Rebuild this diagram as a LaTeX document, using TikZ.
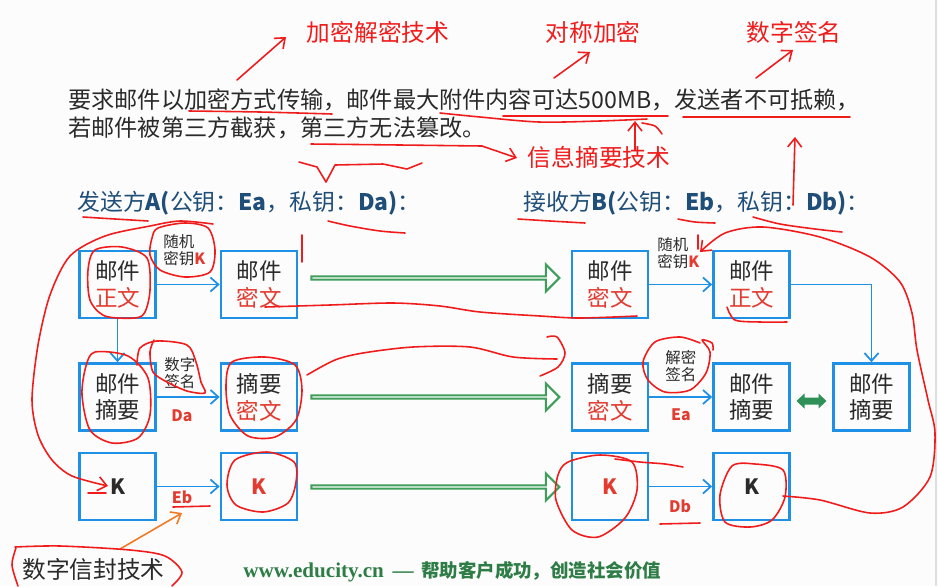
\documentclass[tikz,border=0pt]{standalone}
\usepackage{fontspec}
\setmainfont{Noto Sans CJK SC}
\newfontfamily\footserif{Liberation Serif}
\usetikzlibrary{arrows.meta, calc, shapes.arrows}
\definecolor{boxblue}{HTML}{1E90E6}
\definecolor{txtred}{HTML}{E23B30}
\definecolor{penred}{HTML}{F01C1C}
\definecolor{txtgray}{HTML}{2A2A2A}
\definecolor{navy}{HTML}{1F4E79}
\definecolor{arrowgreen}{HTML}{3E9E5A}
\definecolor{dgreen}{HTML}{2F9158}
\definecolor{footgreen}{HTML}{2E7D46}
\definecolor{penorange}{HTML}{F07A22}
\definecolor{bgwhite}{HTML}{FCFCFC}

\begin{document}
\begin{tikzpicture}[x=0.02cm, y=-0.02cm,
    mailbox/.style={draw=boxblue, line width=1.5pt, minimum width=1.52cm, minimum height=1.34cm,
                 inner sep=0pt, align=center, text=txtgray, font=\fontsize{12.8}{15.3}\selectfont},
    keytext/.style={font=\bfseries\fontsize{12}{14}\selectfont},
    conn/.style={-{Straight Barb[length=4.5pt, width=8pt]}, boxblue, line width=1pt},
    hollow/.style={single arrow, draw=arrowgreen, fill=white, line width=1.2pt,
                 minimum width=0.54cm, minimum height=4.96cm, single arrow head extend=0.15cm,
                 single arrow tip angle=90, inner sep=0pt},
    tag/.style={align=left, anchor=west, inner sep=0pt, text=txtgray, font=\fontsize{8.8}{9.8}\selectfont},
    keyname/.style={text=txtred, font=\bfseries\fontsize{9}{10}\selectfont, inner sep=0pt},
    note/.style={text=penred, font=\fontsize{13.5}{15}\selectfont, inner sep=0pt},
    pen/.style={draw=penred, line width=0.9pt, line cap=round, line join=round},
    pentip/.style={pen, -{Straight Barb[length=5pt, width=8pt]}},
]
    \fill[bgwhite] (0,0) rectangle (938,586);
    \useasboundingbox (0,0) rectangle (938,586);
    \draw[gray!25, line width=0.6pt] (936,0) -- (936,586);

    % Task text
    \node[anchor=west, inner sep=0pt, text=txtgray, font=\fontsize{13.2}{15.9}\selectfont] (req1) at (68,100)
        {要求邮件以加密方式传输，邮件最大附件内容可达500MB，发送者不可抵赖，};
    \node[anchor=west, inner sep=0pt, text=txtgray, font=\fontsize{13.2}{15.9}\selectfont] (req2) at (68,128)
        {若邮件被第三方截获，第三方无法篡改。};

    % Headers
    \node[anchor=west, inner sep=0pt, text=navy, font=\fontsize{13}{15}\selectfont] (hA) at (77,203)
        {发送方\textbf{A(}公钥：\textbf{Ea}，私钥：\textbf{Da)}：};
    \node[anchor=west, inner sep=0pt, text=navy, font=\fontsize{13}{15}\selectfont] (hB) at (523,203)
        {接收方\textbf{B(}公钥：\textbf{Eb}，私钥：\textbf{Db)}：};

    % Sender A
    \node[mailbox] (a1) at (117.5,284.5) {邮件\\\textcolor{txtred}{正文}};
    \node[mailbox] (a2) at (259,284.5) {邮件\\\textcolor{txtred}{密文}};
    \node[mailbox] (a3) at (117.5,397) {邮件\\摘要};
    \node[mailbox] (a4) at (259,397) {摘要\\\textcolor{txtred}{密文}};
    \node[mailbox, keytext] (a5) at (117.5,486.5) {K};
    \node[mailbox, keytext, text=txtred] (a6) at (259,486.5) {K};

    % Receiver B
    \node[mailbox] (b1) at (610,284.5) {邮件\\\textcolor{txtred}{密文}};
    \node[mailbox] (b2) at (751.5,284.5) {邮件\\\textcolor{txtred}{正文}};
    \node[mailbox] (b3) at (610,397) {摘要\\\textcolor{txtred}{密文}};
    \node[mailbox] (b4) at (751.5,397) {邮件\\摘要};
    \node[mailbox] (b5) at (871.5,397) {邮件\\摘要};
    \node[mailbox, keytext, text=txtred] (b6) at (610,486.5) {K};
    \node[mailbox, keytext] (b7) at (751.5,486.5) {K};

    % Transfer arrows
    \node[hollow] (g1) at ($(a2.east)!0.5!(b1.west)+(0,-6.5)$) {};
    \node[hollow] (g2) at ($(a4.east)!0.5!(b3.west)$) {};
    \node[hollow] (g3) at ($(a6.east)!0.5!(b6.west)+(0,0.5)$) {};

    \draw[conn] (a1) -- (a2);
    \draw[conn] (a1) -- (a3);
    \draw[conn] (a3) -- (a4);
    \draw[conn] (a5) -- (a6);
    \draw[conn] (b1) -- (b2);
    \draw[conn] (b3) -- (b4);
    \draw[conn] (b6) -- (b7);
    \draw[conn] (b2.east) -| (b5.north);

    % Compare arrow
    \coordinate (cmp) at ($(b4.east)!0.5!(b5.west)+(0,4)$);
    \fill[dgreen] ($(cmp)+(-15,0)$) -- ++(8,-7.5) -- ++(0,4) -- ++(14,0) -- ++(0,-4) -- ++(8,7.5)
        -- ++(-8,7.5) -- ++(0,-4) -- ++(-14,0) -- ++(0,4) -- cycle;

    % Small labels
    \node[tag] (rk1) at (163,250) {随机\\密钥\textcolor{txtred}{\bfseries K}};
    \node[tag] (rk2) at (657,253) {随机\\密钥\textcolor{txtred}{\bfseries K}};
    \node[tag] (sg1) at (164,373) {数字\\签名};
    \node[tag] (sg2) at (665,366) {解密\\签名};
    \node[keyname] (kda) at (182,416) {Da};
    \node[keyname] (kea) at (681,415) {Ea};
    \node[keyname] (keb) at (182,497) {Eb};
    \node[keyname] (kdb) at (680,506) {Db};

    % Red notes
    \node[note] (n1) at (378,32) {加密解密技术};
    \node[note] (n2) at (593,32) {对称加密};
    \node[note] (n3) at (794,32) {数字签名};
    \node[note] (n4) at (599,157) {信息摘要技术};
    \node[anchor=west, inner sep=0pt, text=txtgray, font=\fontsize{13.5}{15}\selectfont] (env) at (22,569) {数字信封技术};

    % Footer
    \node[anchor=west, inner sep=0pt, text=footgreen] (foot) at (243,572)
        {{\footserif\bfseries\fontsize{12}{14}\selectfont www.educity.cn \,—\,}
         {\bfseries\fontsize{10.5}{12}\selectfont 帮助客户成功，创造社会价值}};

    % Hand-drawn marks
    \draw[pentip] (237,80) -- (286,37);
    \draw[pentip] (554,78) -- (590,52);
    \draw[pentip] (756,78) -- (793,50);
    \draw[pentip] (793,205) -- (795,137);
    \draw[pen] plot[smooth] coordinates {(189,111) (260,112) (332,114)};
    \draw[pen] plot[smooth] coordinates {(440,113) (480,117) (539,122) (600,121) (647,119)};
    \draw[pen] plot[smooth] coordinates {(503,116) (585,116) (668,116)};
    \draw[pentip] (635,150) -- (635,121);
    \draw[pen] plot[smooth] coordinates {(642,123) (655,126) (662,134)};
    \draw[pen] plot[smooth] coordinates {(683,117) (765,117) (850,117)};
    \draw[pen] plot[smooth] coordinates {(311,144) (400,145) (482,146)};
    \draw[pentip] (482,146) -- (517,158);
    \draw[pen] (299,162) -- (317,167) -- (326,182) -- (335,165) -- (383,164) -- (407,169) -- (422,163);

    \draw[pen] plot[smooth] coordinates {(83,217) (115,219) (148,221)};
    \draw[pen] plot[smooth] coordinates {(328,221) (350,226) (380,231) (405,233)};
    \draw[pen] plot[smooth] coordinates {(518,219) (550,221) (585,223)};
    \draw[pen] plot[smooth] coordinates {(678,219) (695,222) (715,223)};
    \draw[pen] plot[smooth] coordinates {(753,217) (780,224) (815,229) (842,232)};

    \draw[pen] plot[smooth cycle] coordinates {(95,250) (122,247) (147,258) (150,290) (145,312) (135,318) (105,316) (90,300) (88,270)};
    \draw[pen] plot[smooth cycle] coordinates {(158,228) (185,223) (208,228) (215,250) (210,272) (185,277) (160,270) (150,255) (152,238)};
    \draw[pentip] plot[smooth] coordinates {(213,224) (180,221) (150,226) (105,236) (70,256) (50,295) (38,345) (32,400) (38,435) (52,460) (72,476) (108,486)};
    \draw[pen] (88,493) -- (106,493);
    \draw[pen] (302,235) -- (302,262);
    \draw[pen] plot[smooth] coordinates {(265,307) (330,305) (393,303) (440,306) (480,312) (540,316) (580,318) (637,316)};

    \draw[pen] plot[smooth cycle] coordinates {(95,352) (128,356) (148,378) (150,415) (138,438) (112,443) (90,430) (82,395) (86,366)};
    \draw[pen] plot[smooth] coordinates {(137,365) (140,348) (157,341) (187,345) (196,362) (201,382) (205,393) (187,391) (167,382) (153,372) (150,352) (154,340)};
    \draw[pen] plot[smooth cycle] coordinates {(232,362) (265,357) (295,365) (302,390) (296,420) (275,437) (248,436) (230,415) (226,385)};
    \draw[pen] plot[smooth] coordinates {(307,375) (335,360) (363,353) (413,347) (470,347) (513,357) (557,359)};
    \draw[pen] plot[smooth] coordinates {(547,337) (557,337) (565,353) (558,367) (540,376)};

    \draw[pen] plot[smooth cycle] coordinates {(235,460) (267,452) (294,462) (296,482) (288,503) (263,512) (236,505) (227,485)};
    \draw[pen] (173,507) -- (210,506);
    \draw[penorange, line width=0.9pt, -{Straight Barb[length=5pt, width=8pt]}] (120,549) -- (182,513);
    \draw[pen] plot[smooth] coordinates {(15,547) (60,546) (130,550) (165,556) (182,572) (172,586)};
    \draw[pen] plot[smooth] coordinates {(16,548) (12,565) (18,586)};

    \draw[pen] plot[smooth cycle] coordinates {(568,462) (600,455) (632,462) (637,490) (625,518) (598,537) (572,530) (556,500) (558,475)};
    \draw[pen] plot[smooth] coordinates {(615,459) (640,462) (665,464) (683,467)};
    \draw[pen] (660,524) -- (700,523);
    \draw[pen] plot[smooth cycle] coordinates {(732,466) (755,464) (783,470) (785,497) (772,520) (750,527) (725,522) (720,495)};
    \draw[pentip] plot[smooth] coordinates {(783,496) (820,500) (870,513) (903,507) (930,477) (935,433) (928,400) (917,350) (912,313) (900,282) (870,257) (820,237) (763,227) (725,233) (700,252)};
    \draw[pen] (698,235) -- (698,249);
    \draw[pen] plot[smooth] coordinates {(727,307) (735,320) (760,322) (787,322)};
    \draw[pen] plot[smooth] coordinates {(700,343) (680,337) (655,342) (643,362) (648,380) (665,392) (690,390) (706,373) (710,352) (702,340) (712,343) (713,350)};
\end{tikzpicture}
\end{document}
